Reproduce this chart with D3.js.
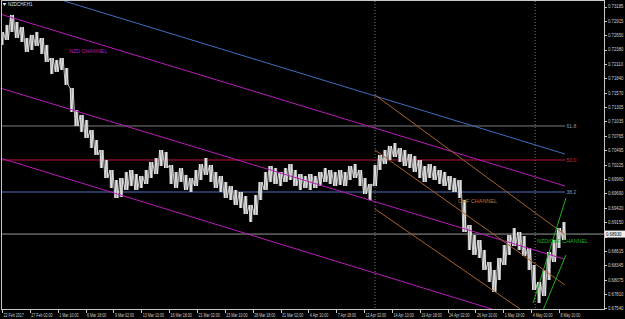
<!DOCTYPE html>
<html>
<head>
<meta charset="utf-8">
<script src="https://cdn.jsdelivr.net/npm/d3@7"></script>
<style>
	body { margin: 0; background: #000; }
	svg { display: block; }
</style>
</head>
<body>
<div id="root"></div>
<script>
const SYMBOL = "NZDCHF,H1"

// time axis: one label every 56 H1 bars
const TIME_LABELS = ["22 Feb 2017","27 Feb 02:00","1 Mar 10:00","6 Mar 18:00","9 Mar 02:00","13 Mar 10:00",
	"16 Mar 18:00","21 Mar 02:00","23 Mar 10:00","28 Mar 18:00","31 Mar 02:00","4 Apr 10:00","7 Apr 18:00",
	"12 Apr 02:00","14 Apr 10:00","19 Apr 18:00","24 Apr 02:00","26 Apr 10:00","1 May 18:00","4 May 02:00","8 May 10:00"]
const BARS_PER_LABEL = 56

const PRICE_TICKS = [0.73185,0.72915,0.72650,0.72380,0.72110,0.71840,0.71570,0.71305,0.71035,0.70765,0.70495,
	0.70225,0.69960,0.69690,0.69420,0.69150,0.68880,0.68615,0.68345,0.68075,0.67810,0.67540]

// price read every 10 bars: high / low
const SAMPLE_STEP = 10
const HIGHS = [0.72709,0.72840,0.73027,0.72896,0.72802,0.72596,0.72653,0.72709,0.72596,0.72466,
	0.72222,0.72185,0.72222,0.72035,0.71661,0.71250,0.71157,0.71063,0.70876,0.70689,
	0.70502,0.70315,0.70128,0.69941,0.69978,0.70091,0.70128,0.70053,0.70016,0.70128,
	0.70278,0.70352,0.70502,0.70465,0.70222,0.70091,0.70165,0.70035,0.69978,0.70128,
	0.70240,0.70352,0.70222,0.70091,0.70016,0.69904,0.69829,0.69754,0.69717,0.69642,
	0.69474,0.69661,0.69904,0.70091,0.70203,0.70165,0.70091,0.70165,0.70240,0.70128,
	0.70053,0.70016,0.70053,0.70016,0.70091,0.70165,0.70128,0.70091,0.70128,0.70091,
	0.70203,0.70240,0.70128,0.69978,0.69866,0.70222,0.70409,0.70502,0.70577,0.70633,
	0.70539,0.70502,0.70427,0.70390,0.70315,0.70203,0.70240,0.70203,0.70128,0.70091,
	0.70016,0.69978,0.69941,0.69567,0.69100,0.68913,0.68819,0.68632,0.68408,0.68258,
	0.68482,0.68726,0.68913,0.69043,0.68969,0.68894,0.68669,0.68352,0.68034,0.68258,
	0.68595,0.68819,0.69043,0.69156]
const LOWS = [0.72466,0.72559,0.72709,0.72596,0.72522,0.72335,0.72372,0.72447,0.72297,0.72148,
	0.71923,0.71961,0.71998,0.71718,0.71213,0.70951,0.70839,0.70726,0.70539,0.70409,
	0.70165,0.69978,0.69791,0.69604,0.69623,0.69754,0.69829,0.69754,0.69791,0.69866,
	0.69978,0.70053,0.70203,0.70165,0.69866,0.69791,0.69904,0.69754,0.69717,0.69829,
	0.69941,0.70035,0.69904,0.69791,0.69717,0.69604,0.69567,0.69474,0.69417,0.69305,
	0.69156,0.69287,0.69567,0.69754,0.69904,0.69866,0.69829,0.69904,0.69941,0.69829,
	0.69754,0.69791,0.69754,0.69791,0.69829,0.69904,0.69866,0.69829,0.69848,0.69829,
	0.69941,0.69978,0.69829,0.69679,0.69567,0.69829,0.70128,0.70240,0.70315,0.70371,
	0.70278,0.70203,0.70165,0.70091,0.69978,0.69904,0.69978,0.69941,0.69866,0.69829,
	0.69754,0.69717,0.69604,0.68969,0.68632,0.68539,0.68482,0.68258,0.68034,0.67847,
	0.68071,0.68352,0.68539,0.68707,0.68632,0.68520,0.68258,0.67884,0.67641,0.67772,
	0.68071,0.68408,0.68669,0.68819]
const BID = 0.68930

// drawn objects, endpoints as [bar, price]
const NZD_CHANNEL = [
	[[-4, 0.73045], [1132, 0.69829]],
	[[-4, 0.71661], [1130, 0.68464]],
	[[-4, 0.70352], [1132, 0.67108]],
]
const TREND_BLUE = [[125, 0.73288], [1132, 0.70427]]
const CHF_CHANNEL = [
	[[750, 0.71531], [1132, 0.68918]],
	[[750, 0.70502], [1132, 0.67977]],
	[[750, 0.69399], [1132, 0.66949]],
]
const NZDCHF_CHANNEL = [
	[[1068, 0.67641], [1134, 0.69604]],
	[[1088, 0.67510], [1134, 0.68539]],
]
const FIB_LEVELS = [
	{ name: "61.8", price: 0.70951, line: "#7d7d7d", text: "#9a9a9a", w: 1 },
	{ name: "50.0", price: 0.70315, line: "#c0143c", text: "#d8283f", w: 1 },
	{ name: "38.2", price: 0.69717, line: "#27395c", text: "#6f9fdf", w: 2 },
]
const FIB_END = 1132
const VLINES = [750, 1072]
const LABELS = [
	{ text: "NZD CHANNEL", bar: 135, price: 0.72353, color: "#b81cb8", len: 38 },
	{ text: "CHF CHANNEL", bar: 917, price: 0.69548, color: "#c0722e", len: 39 },
	{ text: "NZD/CHF CHANNEL", bar: 1076, price: 0.68800, color: "#22b022", len: 51 },
]

const width = 625, height = 319
const plot = { left: 1, top: 1, right: 604, bottom: 310 }

const x = d3.scaleLinear().domain([0, BARS_PER_LABEL * 20]).range([2, 559])
const y = d3.scaleLinear().domain([0.73185, 0.67540]).range([6.5, 308.4])

const svg = d3.select('#root')
	.append('svg')
	.attr('width', width)
	.attr('height', height)
	.style('background', '#000')
	.style('font-family', '"Liberation Sans", Arial, sans-serif')

svg.append('clipPath').attr('id', 'clip')
	.append('rect')
	.attr('x', plot.left).attr('y', plot.top)
	.attr('width', plot.right - plot.left).attr('height', plot.bottom - plot.top)

const g = svg.append('g').attr('clip-path', 'url(#clip)')

// squeeze text to the narrow look of the screenshot
function squeeze(sel, factor) {
	sel.each(function() {
		const w = this.getComputedTextLength()
		d3.select(this).attr('textLength', w * factor).attr('lengthAdjust', 'spacingAndGlyphs')
	})
}

// dotted separators
g.selectAll('.vline')
	.data(VLINES)
	.enter().append('line')
	.attr('x1', d => x(d)).attr('x2', d => x(d))
	.attr('y1', plot.top).attr('y2', plot.bottom)
	.attr('stroke', '#7a7a7a')
	.attr('stroke-dasharray', '1,2')

// fibo levels
g.selectAll('.fib')
	.data(FIB_LEVELS)
	.enter().append('line')
	.attr('x1', plot.left).attr('x2', x(FIB_END))
	.attr('y1', d => y(d.price)).attr('y2', d => y(d.price))
	.attr('stroke', d => d.line)
	.attr('stroke-width', d => d.w)

svg.selectAll('.fibText')
	.data(FIB_LEVELS)
	.enter().append('text')
	.attr('x', x(FIB_END) + 1.5)
	.attr('y', d => y(d.price) + 1)
	.attr('dominant-baseline', 'middle')
	.attr('fill', d => d.text)
	.style('font-size', '5px')
	.text(d => d.name)

// bid line
g.append('line')
	.attr('x1', plot.left).attr('x2', plot.right)
	.attr('y1', y(BID)).attr('y2', y(BID))
	.attr('stroke', '#9a9a9a')

// price bars: wide high-low sticks with a zigzag on top
const samples = HIGHS.map((h, i) => ({ bar: i * SAMPLE_STEP, hi: h, lo: LOWS[i] }))

g.selectAll('.bar')
	.data(samples)
	.enter().append('line')
	.attr('x1', d => x(d.bar)).attr('x2', d => x(d.bar))
	.attr('y1', d => y(d.hi)).attr('y2', d => y(d.lo))
	.attr('stroke', '#a2a2a2')
	.attr('stroke-width', 3.4)

const zig = []
samples.forEach((d, i) => {
	zig.push([d.bar - 3, i % 2 ? d.lo : d.hi])
	zig.push([d.bar, i % 2 ? d.hi : d.lo])
	zig.push([d.bar + 3, i % 2 ? d.lo : d.hi])
})

g.append('path')
	.attr('d', d3.line().x(d => x(d[0])).y(d => y(d[1]))(zig))
	.attr('fill', 'none')
	.attr('stroke', '#f4f4f4')
	.attr('stroke-width', 0.8)

// trend objects
const seg = d3.line().x(d => x(d[0])).y(d => y(d[1]))

g.selectAll('.nzd')
	.data(NZD_CHANNEL)
	.enter().append('path')
	.attr('d', seg)
	.attr('stroke', '#b81cb8')
	.attr('stroke-width', 1)
	.attr('fill', 'none')

g.append('path')
	.attr('d', seg(TREND_BLUE))
	.attr('stroke', '#3f6fbf')
	.attr('fill', 'none')

g.selectAll('.chf')
	.data(CHF_CHANNEL)
	.enter().append('path')
	.attr('d', seg)
	.attr('stroke', '#a8622a')
	.attr('fill', 'none')

g.selectAll('.green')
	.data(NZDCHF_CHANNEL)
	.enter().append('path')
	.attr('d', seg)
	.attr('stroke', '#22b022')
	.attr('fill', 'none')

svg.selectAll('.label')
	.data(LABELS)
	.enter().append('text')
	.attr('x', d => x(d.bar))
	.attr('y', d => y(d.price))
	.attr('dominant-baseline', 'middle')
	.attr('fill', d => d.color)
	.attr('textLength', d => d.len)
	.attr('lengthAdjust', 'spacingAndGlyphs')
	.style('font-size', '6px')
	.text(d => d.text)

// frame
svg.append('rect')
	.attr('x', plot.left + 0.5).attr('y', plot.top - 0.5)
	.attr('width', plot.right - plot.left).attr('height', plot.bottom - plot.top)
	.attr('fill', 'none')
	.attr('stroke', '#c8c8c8')

// price axis; the bid box hides the tick label under it
const shownTicks = PRICE_TICKS.filter(p => Math.abs(y(p) - y(BID)) > 6)
const priceAxis = svg.append('g')
priceAxis.selectAll('line')
	.data(PRICE_TICKS)
	.enter().append('line')
	.attr('x1', plot.right + 0.5).attr('x2', plot.right + 3)
	.attr('y1', d => Math.round(y(d)) + 0.5).attr('y2', d => Math.round(y(d)) + 0.5)
	.attr('stroke', '#c8c8c8')
priceAxis.selectAll('text')
	.data(shownTicks)
	.enter().append('text')
	.attr('x', plot.right + 4)
	.attr('y', d => y(d) + 0.5)
	.attr('dominant-baseline', 'middle')
	.attr('fill', '#d0d0d0')
	.style('font-size', '5px')
	.text(d => d.toFixed(5))
	.call(squeeze, 0.85)

// bid box
svg.append('rect')
	.attr('x', plot.right + 1).attr('y', y(BID) - 3.5)
	.attr('width', 20).attr('height', 7)
	.attr('fill', '#f0f0f0')
svg.append('text')
	.attr('x', plot.right + 2)
	.attr('y', y(BID) + 0.5)
	.attr('dominant-baseline', 'middle')
	.attr('fill', '#000')
	.style('font-size', '5px')
	.text(BID.toFixed(5))
	.call(squeeze, 0.85)

// time axis
const timeAxis = svg.append('g')
timeAxis.selectAll('line')
	.data(TIME_LABELS)
	.enter().append('line')
	.attr('x1', (d, i) => Math.round(x(i * BARS_PER_LABEL)) + 0.5)
	.attr('x2', (d, i) => Math.round(x(i * BARS_PER_LABEL)) + 0.5)
	.attr('y1', plot.bottom).attr('y2', plot.bottom + 3)
	.attr('stroke', '#c8c8c8')
timeAxis.selectAll('text')
	.data(TIME_LABELS)
	.enter().append('text')
	.attr('x', (d, i) => x(i * BARS_PER_LABEL) + 1.5)
	.attr('y', 315.5)
	.attr('dominant-baseline', 'middle')
	.attr('fill', '#d0d0d0')
	.style('font-size', '5px')
	.text(d => d)
	.call(squeeze, 0.72)

// title
svg.append('path')
	.attr('d', 'M2.5,3 L6.5,3 L4.5,6 Z')
	.attr('fill', '#e0e0e0')
svg.append('text')
	.attr('x', 8)
	.attr('y', 5)
	.attr('dominant-baseline', 'middle')
	.attr('fill', '#e0e0e0')
	.style('font-size', '5.5px')
	.text(SYMBOL)
	.call(squeeze, 0.8)
</script>
</body>
</html>
